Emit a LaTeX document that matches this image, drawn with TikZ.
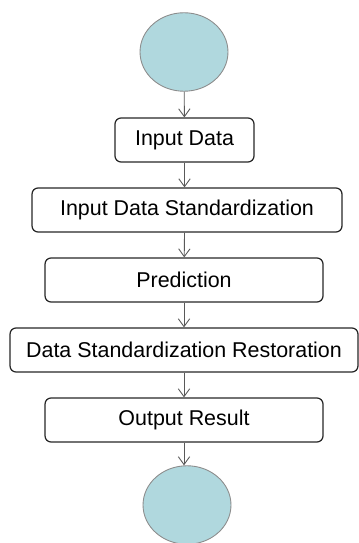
\documentclass[tikz,border=0pt]{standalone}
\usepackage{fontspec}
\setmainfont{Liberation Sans}
\usepackage{xcolor}
\usetikzlibrary{arrows.meta,shapes.geometric}
\definecolor{cyanfill}{RGB}{176,216,222}

\begin{document}
\begin{tikzpicture}[x=0.02cm,y=-0.02cm,line width=0.7pt,
  box/.style={draw=black!85,rounded corners=0.12cm,minimum height=0.88cm,font=\fontsize{12.2}{14}\selectfont},
  endpt/.style={ellipse,draw=black!45,fill=cyanfill,minimum width=1.76cm,minimum height=1.57cm,line width=0.5pt},
  flow/.style={-{Straight Barb[length=4.5pt,width=6.5pt]},draw=black!65,line width=0.5pt}]

\useasboundingbox (0,0) rectangle (358,543);

% start and end
\node[endpt] (S) at (184,52) {};
\node[endpt] (E) at (187,505) {};

% steps
\node[box,minimum width=2.78cm] (B1) at (184.5,140) {Input Data};
\node[box,minimum width=6.2cm] (B2) at (187,210) {Input Data Standardization};
\node[box,minimum width=5.56cm] (B3) at (184,280) {Prediction};
\node[box,minimum width=6.96cm] (B4) at (184,350) {Data Standardization Restoration};
\node[box,minimum width=5.56cm] (B5) at (184,420) {Output Result};

\draw[flow] (S) to (B1);
\draw[flow] (B1) to (B1|-B2.north);
\draw[flow] (B1|-B2.south) to (B3);
\draw[flow] (B3) to (B4);
\draw[flow] (B4) to (B5);
\draw[flow] (B5) to (B5|-E.north);

\end{tikzpicture}
\end{document}
